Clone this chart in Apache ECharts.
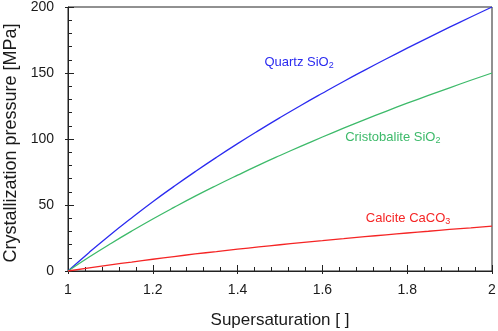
<!DOCTYPE html>
<html><head><meta charset="utf-8">
<script src="https://cdn.jsdelivr.net/npm/echarts@6/dist/echarts.min.js"></script>
<style>html,body{margin:0;padding:0;background:#fff}#c{width:498px;height:331px}</style>
</head><body><div id="c"></div>
<script>
// Data
const supersaturation = [1.00,1.05,1.10,1.15,1.20,1.25,1.30,1.35,1.40,1.45,1.50,1.55,1.60,1.65,1.70,1.75,1.80,1.85,1.90,1.95,2.00];
const quartz       = [0,14.1,27.5,40.2,52.5,64.1,75.3,86.1,96.5,106.5,116.2,125.6,134.7,143.6,152.2,160.6,168.8,176.8,184.7,192.4,200];
const cristobalite = [0,10.6,20.6,30.2,39.4,48.2,56.7,64.8,72.6,80.2,87.5,94.6,101.5,108.2,114.7,121.0,127.1,133.0,138.8,144.5,150];
const calcite      = [0,2.4,4.7,6.8,8.9,10.9,12.9,14.7,16.5,18.2,19.9,21.5,23.0,24.5,26.0,27.4,28.8,30.1,31.5,32.7,34.0];
const xTicks = [1, 1.2, 1.4, 1.6, 1.8, 2];
const yTicks = [0, 50, 100, 150, 200];
const labels = [
  {name:'Quartz', main:'Quartz SiO', sub:'2', at:[1.545,158.0]},
  {name:'Cristobalite', main:'Cristobalite SiO', sub:'2', at:[1.766,101.3]},
  {name:'Calcite', main:'Calcite CaCO', sub:'3', at:[1.802,40.0]}
];
const colors = ['#2b2bf0', '#3dba6a', '#f52525'];
const seriesData = [quartz, cristobalite, calcite];

const font = 'Liberation Sans, Arial, sans-serif';
const chart = echarts.init(document.getElementById('c'));
function pts(arr){ return supersaturation.map((s,i)=>[s,arr[i]]); }

const series = seriesData.map((arr,k)=>({
  type:'line', xAxisIndex:0, yAxisIndex:0, data:pts(arr), smooth:true, showSymbol:false,
  lineStyle:{color:colors[k], width:1.3}, itemStyle:{color:colors[k]}, z:3,
  markPoint:{
    symbol:'circle', symbolSize:0, animation:false,
    data:[{coord:labels[k].at, value:0}],
    label:{show:true, position:'inside', color:colors[k], fontFamily:font,
      formatter:'{m|'+labels[k].main+'}{s|'+labels[k].sub+'}',
      rich:{m:{fontSize:13, fontFamily:font, color:colors[k], lineHeight:16, verticalAlign:'middle'},
            s:{fontSize:9, fontFamily:font, color:colors[k], lineHeight:16, verticalAlign:'bottom'}}}
  }
}));

chart.setOption({
  animation:false,
  grid:{left:68, right:6, top:7, bottom:60, outerBoundsMode:'none', containLabel:false,
        show:true, borderColor:'#222', borderWidth:1, backgroundColor:'transparent'},
  xAxis:[{
    type:'value', min:xTicks[0], max:xTicks[xTicks.length-1], interval:0.2,
    name:'Supersaturation [ ]', nameLocation:'middle', nameGap:41,
    nameTextStyle:{fontSize:17, fontFamily:font, color:'#1a1a1a'},
    axisLine:{lineStyle:{color:'#222', width:1}},
    axisTick:{inside:true, length:6, lineStyle:{color:'#222'}},
    minorTick:{show:true, splitNumber:5, length:4, lineStyle:{color:'#222'}},
    axisLabel:{fontSize:14, fontFamily:font, color:'#1a1a1a', margin:12, formatter:v=>String(+v.toFixed(1))},
    splitLine:{show:false}
  },{
    type:'value', min:xTicks[0], max:xTicks[xTicks.length-1], interval:0.2, position:'bottom',
    axisLine:{show:false}, axisTick:{inside:false, length:3, lineStyle:{color:'#222'}},
    axisLabel:{show:false}, splitLine:{show:false}
  }],
  yAxis:[{
    type:'value', min:yTicks[0], max:yTicks[yTicks.length-1], interval:50,
    name:'Crystallization pressure [MPa]', nameLocation:'middle', nameGap:44,
    nameTextStyle:{fontSize:18, fontFamily:font, color:'#1a1a1a', padding:[0,8,0,0]},
    axisLine:{show:true, lineStyle:{color:'#222', width:1}},
    axisTick:{show:true, inside:true, length:6, lineStyle:{color:'#222'}},
    minorTick:{show:true, splitNumber:5, length:4, lineStyle:{color:'#222'}},
    axisLabel:{fontSize:14, fontFamily:font, color:'#1a1a1a', margin:14},
    splitLine:{show:false}
  },{
    type:'value', min:yTicks[0], max:yTicks[yTicks.length-1], interval:50, position:'left',
    axisLine:{show:false}, axisTick:{show:true, inside:false, length:3, lineStyle:{color:'#222'}},
    axisLabel:{show:false}, splitLine:{show:false}
  }],
  series:series
});
</script></body></html>
